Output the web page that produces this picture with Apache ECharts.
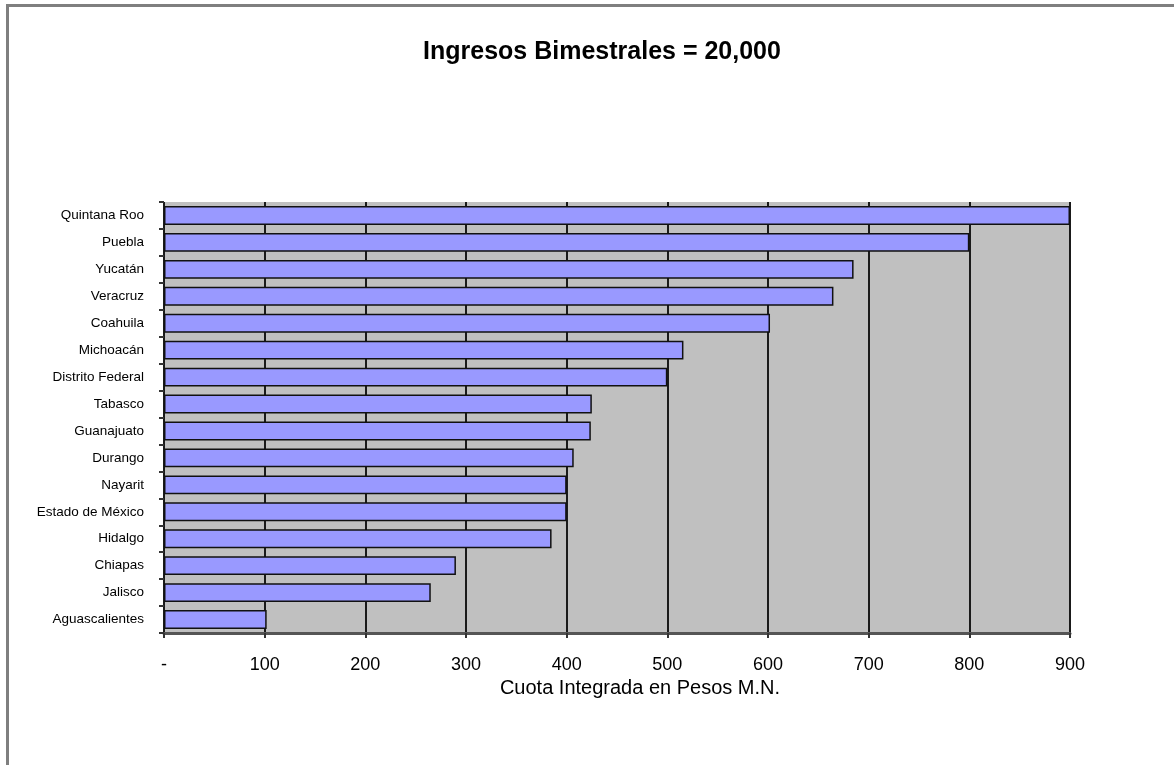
<!DOCTYPE html>
<html>
<head>
<meta charset="utf-8">
<title>Ingresos Bimestrales = 20,000</title>
<script src="https://cdn.jsdelivr.net/npm/echarts@6/dist/echarts.min.js"></script>
<style>
  html, body { margin: 0; padding: 0; background: #ffffff; }
  #chart { width: 1174px; height: 765px; }
</style>
</head>
<body>
<div id="chart"></div>
<script>
// States, top to bottom
const states = [
  'Quintana Roo', 'Puebla', 'Yucatán', 'Veracruz', 'Coahuila', 'Michoacán',
  'Distrito Federal', 'Tabasco', 'Guanajuato', 'Durango', 'Nayarit',
  'Estado de México', 'Hidalgo', 'Chiapas', 'Jalisco', 'Aguascalientes'
];

// Cuota integrada (pesos M.N.) per state
const cuota = [900, 800, 685, 665, 602, 516, 500, 425, 424, 407, 400, 400, 385, 290, 265, 102];

// Value-axis tick labels (0 shown as a dash)
const xTickLabels = ['-', '100', '200', '300', '400', '500', '600', '700', '800', '900'];

const FONT = '"Liberation Sans", Arial, sans-serif';

const chart = echarts.init(document.getElementById('chart'), null, { renderer: 'canvas' });

chart.setOption({
  backgroundColor: '#ffffff',
  animation: false,
  title: {
    text: 'Ingresos Bimestrales = 20,000',
    left: 597,
    top: 35,
    textAlign: 'center',
    textStyle: { fontFamily: FONT, fontSize: 25, fontWeight: 'bold', color: '#000000' }
  },
  graphic: [{
    type: 'rect',
    shape: { x: 7.5, y: 5.5, width: 2000, height: 2000 },
    style: { fill: 'none', stroke: '#7f7f7f', lineWidth: 3 },
    silent: true
  }],
  grid: {
    left: 164,
    right: 104,
    top: 202,
    bottom: 132,
    show: true,
    backgroundColor: '#c0c0c0',
    borderWidth: 0
  },
  xAxis: {
    type: 'value',
    min: 0,
    max: 900,
    interval: 100,
    name: 'Cuota Integrada en Pesos M.N.',
    nameLocation: 'middle',
    nameGap: 43,
    nameTextStyle: { fontFamily: FONT, fontSize: 20, color: '#000000', padding: [0, 0, 0, 46] },
    axisLine: { show: true, lineStyle: { color: '#555555', width: 3 } },
    axisTick: { show: true, inside: false, length: 5, lineStyle: { color: '#333333', width: 2 } },
    axisLabel: {
      margin: 23,
      fontFamily: FONT,
      fontSize: 18,
      color: '#000000',
      formatter: function (v) { return xTickLabels[Math.round(v / 100)]; }
    },
    splitLine: { show: true, lineStyle: { color: '#1a1a1a', width: 2 } }
  },
  yAxis: {
    type: 'category',
    data: states,
    inverse: true,
    axisLine: { show: false },
    axisTick: { show: true, length: 5, lineStyle: { color: '#333333', width: 2 } },
    axisLabel: { margin: 20, fontFamily: FONT, fontSize: 13.5, color: '#000000' },
    splitLine: { show: false }
  },
  series: [{
    type: 'bar',
    data: cuota,
    barCategoryGap: '30%',
    itemStyle: { color: '#9999ff', borderColor: '#111111', borderWidth: 1.5 },
    emphasis: { disabled: true }
  }]
});
</script>
</body>
</html>
